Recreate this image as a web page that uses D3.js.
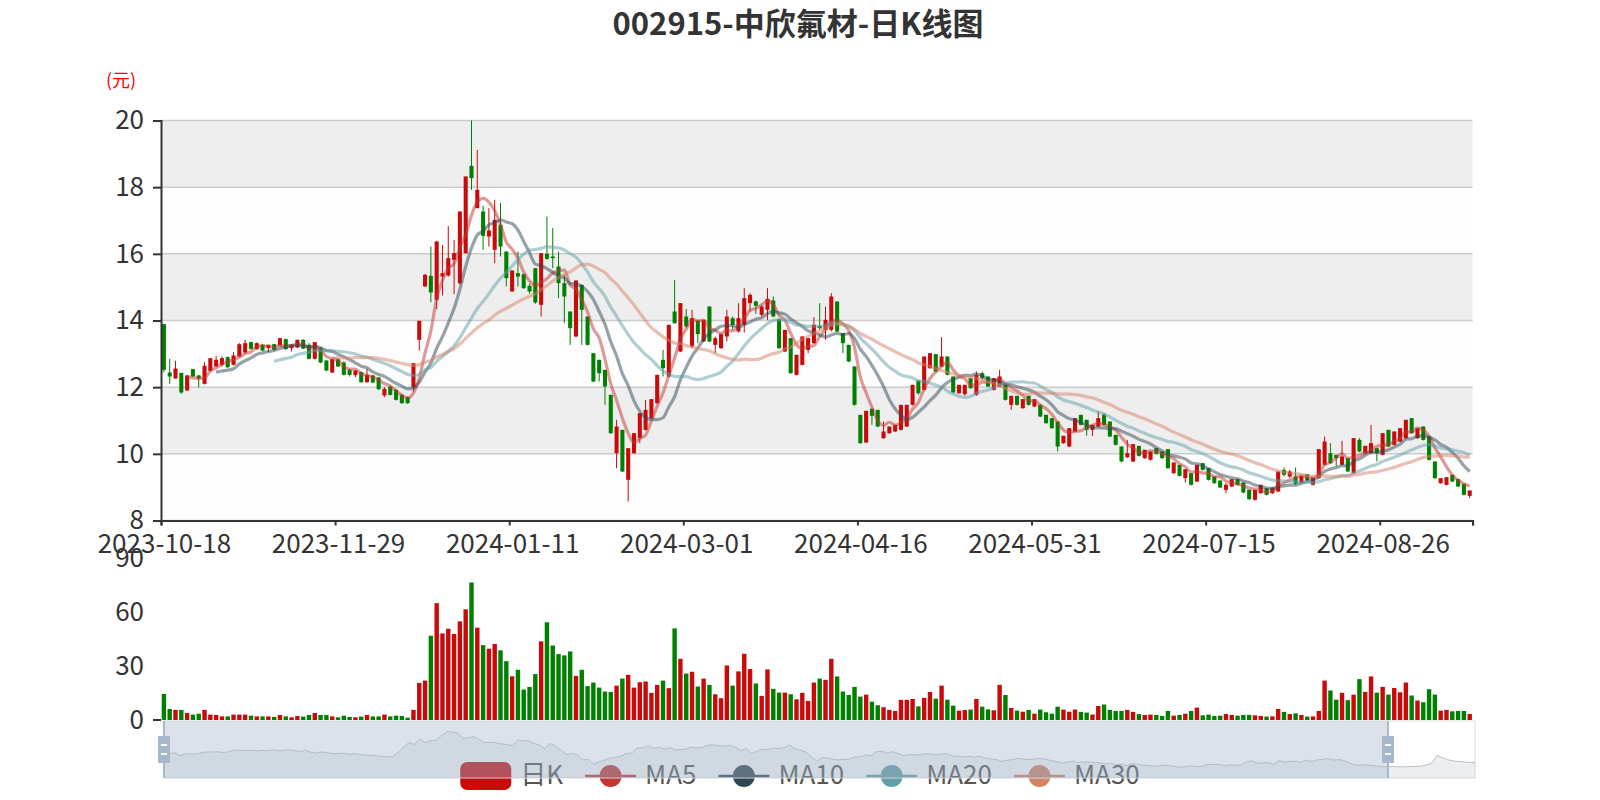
<!DOCTYPE html>
<html><head><meta charset="utf-8">
<script src="https://cdn.jsdelivr.net/npm/d3@7"></script>
<style>
body{margin:0;background:#fff}
svg{font-family:"Noto Sans CJK SC","Noto Sans",sans-serif}
</style></head>
<body><svg id="c" width="1600" height="800"></svg>
<script>
// ---------------- data ----------------
const titleText = "002915-中欣氟材-日K线图";
const unitText = "(元)";
const seriesNames = ["日K", "MA5", "MA10", "MA20", "MA30"];
const maPeriods = [5, 10, 20, 30];
const startDate = "2023-10-18";
const holidays = ["2024-01-01","2024-02-09","2024-02-12","2024-02-13","2024-02-14","2024-02-15","2024-02-16",
  "2024-04-04","2024-04-05","2024-05-01","2024-05-02","2024-05-03","2024-06-10","2024-09-16","2024-09-17",
  "2024-10-01","2024-10-02","2024-10-03","2024-10-04","2024-10-07"];
const windowEndIndex = 225;           // dataZoom end (last visible day)
const priceTicks = [8, 10, 12, 14, 16, 18, 20];
const volumeTicks = [0, 30, 60, 90];
const labelEvery = 30;

const openPrices = [
13.89,12.44,12.26,12.43,11.90,12.54,12.35,12.10,12.49,12.62,
12.67,12.90,12.67,12.92,13.04,13.35,13.14,13.27,13.17,13.29,
13.25,13.44,13.17,13.19,13.42,13.27,12.85,13.17,12.80,12.44,
12.84,12.74,12.52,12.36,12.45,12.15,12.35,12.29,11.75,12.02,
11.92,11.77,11.70,12.00,13.42,15.02,15.34,14.62,15.32,15.35,
15.82,15.12,16.02,18.64,17.37,17.27,16.52,16.12,16.87,16.07,
14.87,15.42,15.39,15.04,15.57,14.47,16.00,15.92,15.62,15.12,
14.27,13.52,15.07,14.12,13.02,12.82,12.52,11.77,10.02,10.72,
9.22,10.02,10.47,10.72,11.07,11.52,12.82,12.32,14.27,13.07,
14.12,13.22,14.00,13.37,14.42,13.27,13.17,13.52,14.07,13.67,
13.87,14.52,14.57,14.17,14.32,14.60,14.04,13.07,13.47,12.37,
12.67,13.12,13.32,13.84,13.72,13.72,14.57,13.62,13.27,12.62,
11.17,10.34,11.35,11.32,10.47,10.62,10.67,10.72,10.82,11.47,
12.20,11.92,12.57,12.99,12.62,12.92,12.32,11.82,11.79,12.27,
11.77,12.42,12.32,11.92,12.02,12.10,11.47,11.74,11.37,11.74,
11.42,11.47,11.17,11.07,10.97,10.32,10.22,10.67,11.17,11.02,
10.72,10.82,11.17,10.97,10.57,10.22,9.90,9.77,10.24,9.87,
9.82,10.17,10.07,10.14,9.42,9.67,9.27,9.42,9.17,9.72,
9.57,9.32,9.20,8.92,9.02,9.24,9.14,8.92,8.62,8.82,
8.97,8.82,8.87,9.52,9.32,9.32,9.14,9.39,9.07,9.27,
9.67,10.02,9.97,9.67,9.87,9.42,10.42,10.02,10.02,10.17,
9.97,10.72,10.27,10.37,10.47,11.07,10.47,10.82,10.52,9.77,
9.12,9.07,9.37,9.24,9.10,8.74,8.90,8.85,8.80,8.80,
8.85,8.90,9.00,9.30,10.30,11.70,11.20,10.70,10.40,10.20,10.10,10.00];

const closePrices = [
12.52,12.32,12.56,11.84,12.35,12.32,12.26,12.64,12.87,12.82,
12.87,12.60,12.95,13.29,13.32,13.15,13.32,13.10,13.27,13.12,
13.47,13.14,13.27,13.42,13.16,12.85,13.35,12.74,12.50,12.84,
12.62,12.37,12.37,12.50,12.15,12.37,12.14,11.94,11.95,11.77,
11.62,11.52,11.52,12.72,13.99,15.37,14.84,16.37,15.42,15.87,
16.02,17.27,18.32,18.27,17.92,16.54,16.70,17.02,16.22,15.27,
15.50,15.32,14.97,14.87,14.54,16.02,15.85,15.87,15.12,14.72,
13.77,15.20,14.32,13.27,12.17,12.42,12.02,10.62,10.82,9.47,
10.17,10.62,11.22,11.32,11.64,12.37,12.57,13.87,13.92,14.52,
13.82,14.07,13.59,14.02,13.37,13.47,13.60,14.12,13.87,14.07,
14.67,14.77,14.44,14.42,14.65,14.12,13.17,13.72,12.42,12.97,
13.52,13.47,13.87,13.77,14.02,14.72,13.67,13.32,12.77,11.47,
10.32,11.29,11.14,10.82,10.67,10.82,10.87,11.47,11.47,12.07,
11.82,12.92,13.02,12.47,12.92,12.37,11.84,12.07,12.07,11.97,
12.37,12.27,12.02,12.27,12.32,11.62,11.74,11.47,11.64,11.47,
11.64,11.12,10.92,10.77,10.22,10.54,10.77,11.07,10.87,10.72,
10.87,11.07,10.87,10.52,10.27,9.77,10.02,10.29,9.94,10.12,
10.07,10.00,9.87,9.57,9.74,9.34,9.54,9.07,9.67,9.52,
9.22,9.12,8.99,9.07,9.24,9.07,8.84,8.64,8.92,9.07,
8.77,8.99,9.47,9.37,9.47,9.10,9.34,9.20,9.29,10.14,
10.37,9.72,9.87,9.92,9.47,10.47,10.07,10.24,10.32,10.02,
10.62,10.22,10.67,10.77,11.02,10.62,10.77,10.42,9.82,9.27,
9.27,9.30,9.17,9.02,8.77,8.90,8.85,8.80,8.80,8.85,
8.90,8.95,9.25,9.70,11.90,11.30,10.70,10.40,10.20,10.10,10.00,9.85];

const lowPrices = [
12.45,12.10,12.26,11.80,11.90,12.30,11.99,12.08,12.47,12.60,
12.62,12.58,12.65,12.90,13.00,13.12,13.12,13.08,13.05,13.10,
13.22,13.12,13.07,13.17,13.14,12.83,12.83,12.72,12.48,12.42,
12.60,12.35,12.32,12.30,12.13,12.13,12.12,11.92,11.70,11.75,
11.60,11.50,11.50,11.87,13.10,15.02,14.55,14.34,14.75,15.32,
14.79,15.07,16.00,17.92,17.37,16.12,16.22,15.72,15.92,15.02,
14.87,15.02,14.95,14.80,14.50,14.12,15.82,15.57,14.67,13.92,
13.27,13.50,13.27,13.25,12.15,12.17,11.47,10.60,9.57,9.45,
8.57,10.00,10.32,10.70,11.05,11.50,12.32,12.30,13.90,13.05,
13.77,13.17,13.32,13.35,13.35,13.02,13.15,13.37,13.72,13.64,
13.64,14.27,14.20,14.12,14.02,14.10,13.15,13.05,12.40,12.35,
12.65,13.02,13.30,13.72,13.42,13.67,13.65,13.02,12.75,11.45,
10.30,10.32,10.87,10.80,10.45,10.60,10.65,10.70,10.80,11.45,
11.77,11.90,12.55,12.45,12.60,12.35,11.82,11.80,11.74,11.95,
11.74,12.22,12.00,11.90,12.00,11.60,11.32,11.45,11.35,11.45,
11.40,11.10,10.90,10.75,10.07,10.30,10.20,10.65,10.85,10.54,
10.54,10.80,10.85,10.50,10.25,9.75,9.87,9.75,9.92,9.85,
9.80,9.98,9.85,9.55,9.40,9.32,9.14,9.05,9.15,9.50,
9.20,9.10,8.97,8.82,9.00,9.05,8.82,8.62,8.60,8.80,
8.75,8.80,8.85,9.32,9.27,9.07,9.12,9.18,9.05,9.25,
9.65,9.70,9.62,9.65,9.45,9.40,10.05,10.00,10.00,9.77,
9.95,10.20,10.25,10.35,10.45,10.60,10.45,10.40,9.80,9.25,
9.10,9.05,9.15,9.00,8.75,8.67,8.80,8.75,8.70,8.78,
8.80,8.85,8.95,9.25,10.20,11.10,10.60,10.30,10.10,10.00,9.90,9.80];

const highPrices = [
13.89,12.85,12.79,12.43,12.37,12.55,12.37,12.75,12.87,12.94,
12.92,12.92,13.05,13.32,13.42,13.36,13.34,13.30,13.27,13.30,
13.47,13.46,13.28,13.43,13.44,13.32,13.36,13.20,12.82,12.86,
12.86,12.78,12.55,12.52,12.47,12.55,12.37,12.30,12.00,12.04,
11.95,11.80,11.72,12.72,13.99,15.40,16.22,16.39,16.27,16.83,
16.42,17.27,18.32,20.02,19.12,17.44,17.37,17.62,17.52,16.07,
15.50,16.07,15.40,15.10,15.57,16.02,17.12,16.77,16.07,15.37,
14.27,15.20,15.07,14.12,13.02,12.82,12.52,11.77,11.02,10.72,
10.17,10.62,11.22,11.62,11.64,12.37,13.12,13.87,15.22,14.52,
14.35,14.32,14.00,14.02,14.42,13.52,13.60,14.32,14.12,14.52,
14.97,14.82,14.60,14.47,14.97,14.72,14.04,13.72,13.47,12.97,
13.52,13.47,14.10,14.52,14.42,14.82,14.57,13.62,13.27,12.62,
11.17,11.29,11.37,11.32,10.97,10.82,10.87,11.47,11.47,12.07,
12.20,12.92,13.02,12.99,13.50,12.92,12.32,12.07,12.07,12.27,
12.47,12.47,12.32,12.27,12.52,12.10,11.74,11.74,11.64,11.74,
11.64,11.47,11.17,11.07,10.97,10.54,10.77,11.07,11.17,11.02,
10.87,11.27,11.22,10.97,10.57,10.22,10.42,10.29,10.24,10.12,
10.07,10.17,10.07,10.14,9.74,9.67,9.54,9.42,9.67,9.72,
9.57,9.32,9.20,9.12,9.24,9.24,9.14,8.92,8.92,9.07,
8.97,8.99,9.47,9.59,9.52,9.59,9.34,9.39,9.29,10.14,
10.52,10.32,9.97,10.39,9.87,10.47,10.47,10.24,10.87,10.17,
10.62,10.72,10.67,10.77,11.02,11.07,10.77,10.82,10.52,9.77,
9.27,9.30,9.37,9.24,9.10,8.90,8.95,8.90,8.88,8.95,
9.00,9.05,9.30,9.75,12.00,12.00,11.30,10.90,10.50,10.30,10.20,10.10];

const volumes = [
14.5,6.1,5.6,5.6,3.9,3.0,3.5,5.6,3.0,2.8,
2.0,2.0,3.0,3.0,3.0,2.4,2.0,2.0,2.0,1.7,
2.8,2.0,1.5,2.2,1.9,2.8,3.9,2.8,2.8,2.0,
1.5,2.4,1.7,1.5,1.9,2.8,2.0,2.0,3.0,2.0,
2.4,2.2,1.3,5.6,20.6,21.9,46.8,64.9,48.1,50.7,
47.8,54.8,61.5,76.4,51.3,41.6,39.6,42.2,38.7,32.7,
24.3,27.9,16.9,18.4,25.5,43.7,54.3,41.4,36.6,35.9,
38.1,24.5,27.9,18.8,20.8,18.0,15.8,15.6,19.1,23.0,
25.1,18.0,21.0,21.4,15.1,19.5,21.9,17.7,50.9,34.0,
25.8,26.8,18.6,23.0,19.5,14.3,12.1,30.3,19.1,27.0,
36.8,28.3,20.3,13.4,28.1,17.3,15.2,15.2,14.3,11.5,
15.1,10.6,20.8,23.0,22.3,34.0,24.2,15.8,13.9,18.4,
13.0,14.1,10.2,8.2,7.1,5.6,5.0,11.2,11.2,11.7,
7.6,12.3,15.6,11.9,19.1,11.3,8.0,5.2,5.6,5.8,
11.7,7.4,5.9,5.4,19.5,13.9,6.7,5.2,4.6,5.6,
3.5,5.8,4.3,3.5,7.4,5.8,4.6,5.8,4.5,4.1,
3.0,7.8,8.6,5.6,5.0,5.0,5.6,4.5,3.3,2.8,
3.0,2.8,2.2,5.0,2.4,2.8,3.5,5.0,6.9,2.6,
3.0,2.2,2.4,3.3,2.8,2.4,2.8,2.8,2.6,2.2,
1.9,2.0,6.1,4.5,3.3,3.7,2.8,1.9,2.0,5.0,
21.9,16.4,11.3,15.1,11.0,14.1,22.7,15.6,24.2,15.2,
18.4,14.1,17.8,15.4,20.8,13.6,10.8,9.9,17.1,14.1,
5.2,5.6,4.8,5.0,5.0,3.3];

// ---------------- styles ----------------
const UP = "#c80a0a", DOWN = "#008000";
const maColors = ["#c23531", "#2f4554", "#61a0a8", "#d48265"];
const FONT = '"Noto Sans CJK SC","Noto Sans",sans-serif';

// ---------------- derived ----------------
const hol = new Set(holidays);
function tradingDays(start, n) {
  const out = []; const d = new Date(start + "T00:00:00Z");
  while (out.length < n) {
    const s = d.toISOString().slice(0, 10), w = d.getUTCDay();
    if (w !== 0 && w !== 6 && !hol.has(s)) out.push(s);
    d.setUTCDate(d.getUTCDate() + 1);
  }
  return out;
}
const N = closePrices.length;
const dates = tradingDays(startDate, N);
const nView = windowEndIndex + 1;
const view = d3.range(nView);
function ma(p) {
  return closePrices.map((c, i) => i < p - 1 ? null : d3.mean(closePrices.slice(i - p + 1, i + 1)));
}
const maData = maPeriods.map(ma);

// ---------------- layout ----------------
const svg = d3.select("#c");
const GL = 161, GR = 1472.6, PT = 120.5, PB = 520.5, VT = 558, VB = 720;
const x = d3.scaleBand().domain(view).range([GL, GR]).padding(0);
const bw = x.bandwidth();
const cx = i => x(i) + bw / 2;
const xb = d3.scaleLinear().domain([0, nView]).range([GL, GR]);
const yP = d3.scaleLinear().domain([8, 20]).range([PB, PT]);
const yV = d3.scaleLinear().domain([0, 90]).range([VB, VT]);

svg.append("rect").attr("width", 1600).attr("height", 800).attr("fill", "#fff");

// title
svg.append("text").attr("x", 798).attr("y", 35).attr("text-anchor", "middle")
  .attr("font-size", 31).attr("font-weight", "bold").attr("fill", "#333").text(titleText);
svg.append("text").attr("x", 121).attr("y", 87).attr("text-anchor", "middle")
  .attr("font-size", 18).attr("fill", "#ff0000").text(unitText);

// split areas & lines
const gGrid = svg.append("g");
for (let k = 0; k < priceTicks.length - 1; k++) {
  gGrid.append("rect").attr("x", GL).attr("width", GR - GL)
    .attr("y", yP(priceTicks[k + 1])).attr("height", yP(priceTicks[k]) - yP(priceTicks[k + 1]))
    .attr("fill", k % 2 === 0 ? "rgba(250,250,250,0.3)" : "rgba(200,200,200,0.3)");
}
gGrid.selectAll("line.sp").data(priceTicks).join("line").attr("class", "sp")
  .attr("x1", GL).attr("x2", GR).attr("y1", d => yP(d)).attr("y2", d => yP(d))
  .attr("stroke", "#ccc").attr("stroke-width", 1.5);

// clip
svg.append("clipPath").attr("id", "pc").append("rect")
  .attr("x", GL).attr("y", PT).attr("width", GR - GL).attr("height", PB - PT);

// candles
const gC = svg.append("g").attr("clip-path", "url(#pc)");
const col = i => closePrices[i] >= openPrices[i] ? UP : DOWN;
const bodyW = bw * 0.7;
gC.selectAll("line.w").data(view).join("line").attr("class", "w")
  .attr("x1", cx).attr("x2", cx)
  .attr("y1", i => yP(highPrices[i])).attr("y2", i => yP(lowPrices[i]))
  .attr("stroke", col).attr("stroke-width", 1);
gC.selectAll("rect.b").data(view).join("rect").attr("class", "b")
  .attr("x", i => cx(i) - bodyW / 2).attr("width", bodyW)
  .attr("y", i => yP(Math.max(openPrices[i], closePrices[i])))
  .attr("height", i => Math.max(1, Math.abs(yP(openPrices[i]) - yP(closePrices[i]))))
  .attr("fill", col);

// MA lines
const line = d3.line().defined(d => d[1] != null).x(d => cx(d[0])).y(d => yP(d[1])).curve(d3.curveMonotoneX);
maData.forEach((arr, k) => {
  gC.append("path").datum(view.map(i => [i, arr[i]]))
    .attr("d", line).attr("fill", "none").attr("stroke", maColors[k])
    .attr("stroke-width", 3.2).attr("stroke-opacity", 0.5).attr("stroke-linejoin", "round");
});

// price axes
const axY = svg.append("g").attr("transform", `translate(${GL},0)`)
  .call(d3.axisLeft(yP).tickValues(priceTicks).tickSize(8).tickPadding(9).tickFormat(d3.format("d")));
const axX = svg.append("g").attr("transform", `translate(0,${PB})`)
  .call(d3.axisBottom(xb).tickValues(d3.range(0, nView + 1, labelEvery).concat([nView]))
    .tickSize(5).tickPadding(9).tickFormat(i => i < nView ? dates[i] : ""));
axX.selectAll("text").attr("x", bw / 2);
[axY, axX].forEach(a => {
  a.select(".domain").attr("stroke", "#333").attr("stroke-width", 2);
  a.selectAll(".tick line").attr("stroke", "#333").attr("stroke-width", 2);
  a.selectAll("text").attr("font-family", FONT).attr("font-size", 26).attr("fill", "#333");
});

// volume bars
const vW = bw * 0.76;
svg.append("g").selectAll("rect").data(view).join("rect")
  .attr("x", i => cx(i) - vW / 2).attr("width", vW)
  .attr("y", i => yV(volumes[i])).attr("height", i => VB - yV(volumes[i]))
  .attr("fill", col);
const axV = svg.append("g").attr("transform", `translate(${GL},0)`)
  .call(d3.axisLeft(yV).tickValues(volumeTicks).tickSize(0).tickPadding(17));
axV.select(".domain").remove();
axV.selectAll("text").attr("font-family", FONT).attr("font-size", 26).attr("fill", "#333");
svg.append("line").attr("x1", GL - 8).attr("x2", GL).attr("y1", VB).attr("y2", VB)
  .attr("stroke", "#333").attr("stroke-width", 2);

// legend
const LY = 776, IW = 51, IH = 28, TG = 9, IG = 22;
const gL = svg.append("g");
const items = seriesNames.map((n, k) => {
  const g = gL.append("g");
  if (k === 0) {
    g.append("rect").attr("x", 0).attr("y", LY - IH / 2).attr("width", IW).attr("height", IH)
      .attr("rx", 7).attr("fill", UP);
  } else {
    g.append("line").attr("x1", 0).attr("x2", IW).attr("y1", LY).attr("y2", LY)
      .attr("stroke", maColors[k - 1]).attr("stroke-width", 2.5);
    g.append("circle").attr("cx", IW / 2).attr("cy", LY).attr("r", 11).attr("fill", maColors[k - 1]);
  }
  const t = g.append("text").attr("x", IW + TG).attr("y", LY).attr("dy", "0.3em")
    .attr("font-size", 26).attr("fill", "#555").text(n);
  return { g, w: IW + TG + t.node().getComputedTextLength() };
});
const totalW = d3.sum(items, d => d.w) + IG * (items.length - 1);
let lx = 800 - totalW / 2;
items.forEach(it => { it.g.attr("transform", `translate(${lx},0)`); lx += it.w + IG; });

// dataZoom slider
const SL = 164, SR = 1475, ST = 721, SB = 778;
const xs = d3.scaleLinear().domain([0, N - 1]).range([SL, SR]);
const ext = d3.extent(closePrices), pad = (ext[1] - ext[0]) * 0.3;
const ys = d3.scaleLinear().domain([ext[0] - pad, ext[1] + pad]).range([SB, ST]);
const gS = svg.append("g");
gS.append("rect").attr("x", SL).attr("y", ST).attr("width", SR - SL).attr("height", SB - ST)
  .attr("fill", "none").attr("stroke", "#ddd");
gS.append("path").datum(closePrices)
  .attr("d", d3.area().x((d, i) => xs(i)).y0(SB).y1(d => ys(d)))
  .attr("fill", "rgba(47,69,84,0.09)");
gS.append("path").datum(closePrices)
  .attr("d", d3.line().x((d, i) => xs(i)).y(d => ys(d)))
  .attr("fill", "none").attr("stroke", "rgba(47,69,84,0.3)").attr("stroke-width", 1);
const hx = xs(windowEndIndex);
gS.append("rect").attr("x", SL).attr("y", ST).attr("width", hx - SL).attr("height", SB - ST)
  .attr("fill", "rgba(167,183,203,0.4)");
[SL, hx].forEach(h => {
  const g = gS.append("g").attr("transform", `translate(${h},0)`);
  g.append("rect").attr("x", -1).attr("y", ST).attr("width", 2).attr("height", SB - ST).attr("fill", "#a7b7cc");
  g.append("rect").attr("x", -6).attr("y", 736).attr("width", 12).attr("height", 27).attr("fill", "#a7b7cc");
  g.append("rect").attr("x", -3).attr("y", 744).attr("width", 6).attr("height", 2).attr("fill", "#fff");
  g.append("rect").attr("x", -3).attr("y", 753).attr("width", 6).attr("height", 2).attr("fill", "#fff");
});
</script>
</body></html>
